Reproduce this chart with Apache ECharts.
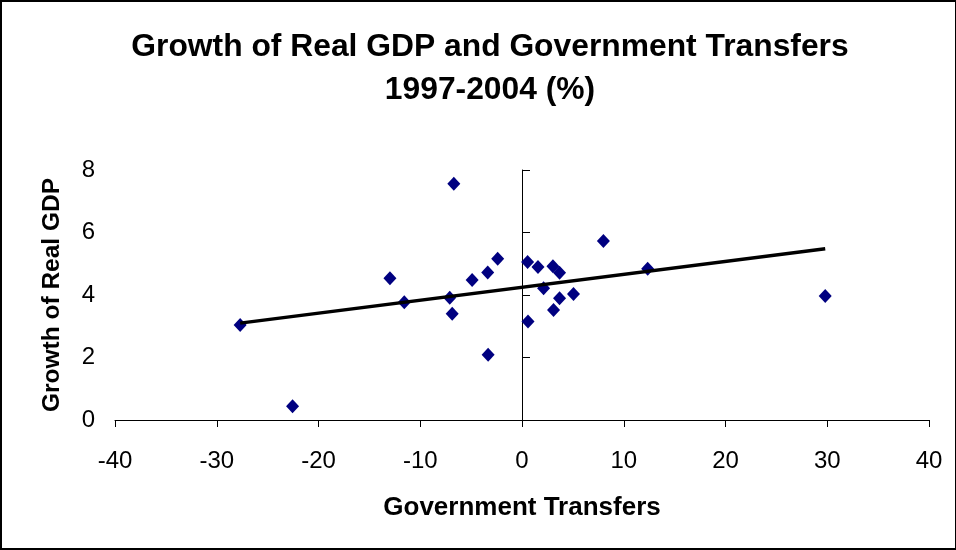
<!DOCTYPE html>
<html>
<head>
<meta charset="utf-8">
<script src="https://cdn.jsdelivr.net/npm/echarts@6/dist/echarts.min.js"></script>
<style>
html,body{margin:0;padding:0;background:#fff;}
#c{width:956px;height:550px;box-sizing:border-box;border:2px solid #000;border-right-width:1px;}
</style>
</head>
<body>
<div id="c"></div>
<script>
const transfers = [-27.7,-22.55,-12.98,-11.57,-6.70,-7.10,-6.86,-4.90,-3.37,-3.33,-2.39,0.55,0.59,1.57,2.12,3.04,3.69,3.10,3.69,5.06,8.0,12.35,29.8];
const gdpGrowth = [3.04,0.44,4.54,3.77,7.56,3.91,3.40,4.48,4.72,2.09,5.16,5.06,3.15,4.90,4.22,4.92,4.71,3.52,3.90,4.03,5.73,4.84,3.97];
const trendX = [-27.7, 29.8];
const trendY = [3.10, 5.48];
const xTicks = [-40,-30,-20,-10,0,10,20,30,40];
const yTicks = [0,2,4,6,8];

const pts = transfers.map((x,i)=>[x,gdpGrowth[i]]);
const trend = trendX.map((x,i)=>[x,trendY[i]]);
const font = 'Liberation Sans, Arial, sans-serif';

const chart = echarts.init(document.getElementById('c'), null, {renderer:'canvas'});
chart.setOption({
  animation:false,
  title:{
    text:'Growth of Real GDP and Government Transfers\n1997-2004 (%)',
    left:483, top:19, textAlign:'center',
    textStyle:{fontFamily:font,fontWeight:'bold',fontSize:31.8,color:'#000',lineHeight:43}
  },
  grid:{left:113,right:26,top:168,bottom:128,containLabel:false},
  xAxis:{
    type:'value',min:xTicks[0],max:xTicks[xTicks.length-1],interval:10,
    name:'Government Transfers',nameLocation:'middle',nameGap:75,
    nameTextStyle:{fontFamily:font,fontWeight:'bold',fontSize:26,color:'#000'},
    axisLine:{onZero:false,lineStyle:{color:'#000',width:1}},
    axisTick:{show:true,inside:false,length:7,lineStyle:{color:'#000'}},
    axisLabel:{fontFamily:font,fontSize:24,color:'#000',margin:29},
    splitLine:{show:false}
  },
  yAxis:[{
    type:'value',min:yTicks[0],max:yTicks[yTicks.length-1],interval:2,position:'left',
    name:'Growth of Real GDP',nameLocation:'middle',nameGap:50,
    nameTextStyle:{fontFamily:font,fontWeight:'bold',fontSize:24.5,color:'#000'},
    axisLine:{show:false,onZero:false},axisTick:{show:false},
    axisLabel:{fontFamily:font,fontSize:24,color:'#000',margin:20},
    splitLine:{show:false}
  },{
    type:'value',min:yTicks[0],max:yTicks[yTicks.length-1],interval:2,position:'left',
    axisLine:{show:true,onZero:true,lineStyle:{color:'#000',width:1}},
    axisTick:{show:true,inside:true,length:8,lineStyle:{color:'#000'}},
    axisLabel:{show:false},splitLine:{show:false}
  }],
  series:[{
    type:'scatter',data:pts,symbol:'diamond',symbolSize:[13,14],
    itemStyle:{color:'#000080',opacity:1},z:3
  },{
    type:'line',data:trend,symbol:'none',
    lineStyle:{color:'#000',width:3.5},z:4
  }]
});
</script>
</body>
</html>
